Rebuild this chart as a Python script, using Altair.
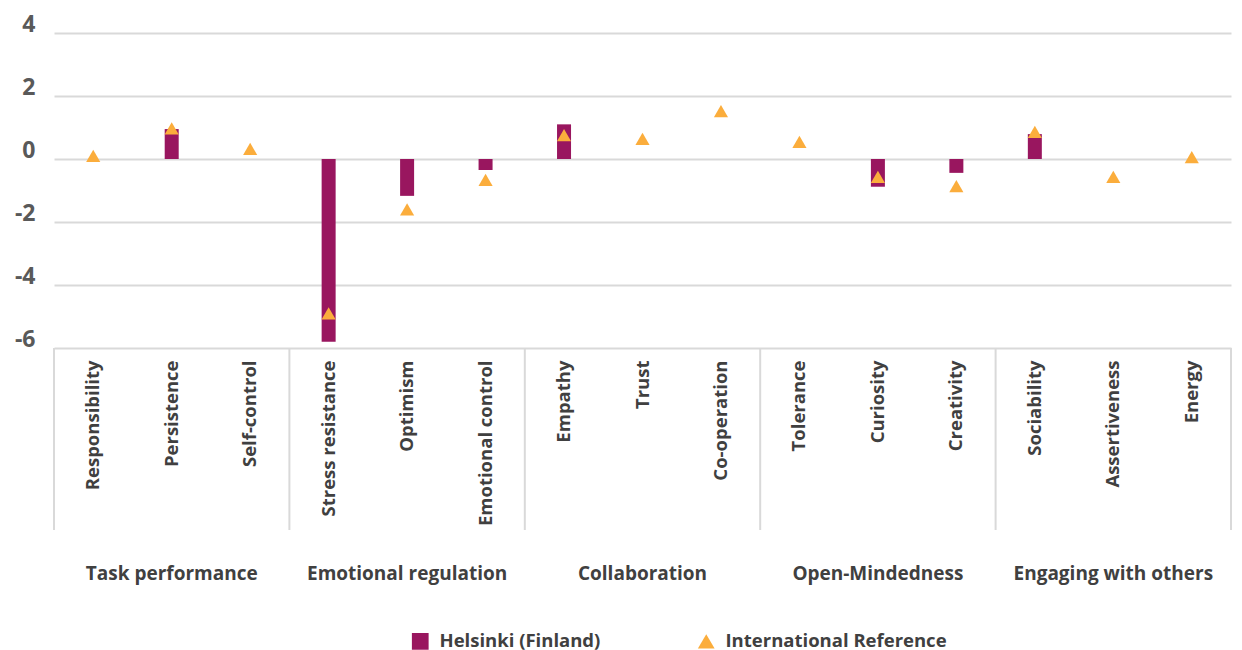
import altair as alt
import pandas as pd

categories = ["Responsibility", "Persistence", "Self-control",
              "Stress resistance", "Optimism", "Emotional control",
              "Empathy", "Trust", "Co-operation",
              "Tolerance", "Curiosity", "Creativity",
              "Sociability", "Assertiveness", "Energy"]
groups = ["Task performance", "Emotional regulation", "Collaboration",
          "Open-Mindedness", "Engaging with others"]
group_first = ["Responsibility", "Stress resistance", "Empathy", "Tolerance", "Sociability"]
group_mid = ["Persistence", "Optimism", "Trust", "Curiosity", "Assertiveness"]
group_last = ["Energy"]

helsinki = [None, 0.95, None, -5.8, -1.17, -0.35, 1.1, None, None,
            None, -0.88, -0.44, 0.79, None, None]
reference = [0.1, 0.97, 0.32, -4.9, -1.6, -0.66, 0.76, 0.64, 1.52,
             0.54, -0.57, -0.86, 0.86, -0.57, 0.06]

S1 = "Helsinki (Finland)"
S2 = "International Reference"
PURPLE = "#99165F"
ORANGE = "#FBAD3C"
FONT = "Open Sans"

W, H = 1177, 315

bars = pd.DataFrame({"category": categories, "value": helsinki, "series": S1}).dropna()
pts = pd.DataFrame({"category": categories, "value": reference, "series": S2})
sep_first = pd.DataFrame({"category": group_first})
sep_last = pd.DataFrame({"category": group_last})
glabels = pd.DataFrame({"category": group_mid, "group": groups})

xenc = alt.X("category:N", sort=categories,
             scale=alt.Scale(domain=categories, paddingInner=0, paddingOuter=0),
             axis=alt.Axis(title=None, labelAngle=-90, ticks=False, domain=False,
                           labelPadding=12, labelFontSize=18.5, labelFont=FONT,
                           labelFontWeight="bold", labelColor="#404040", labelLimit=300))
yenc = alt.Y("value:Q",
             scale=alt.Scale(domain=[-6, 4], nice=False, zero=False),
             axis=alt.Axis(title=None, values=[-6, -4, -2, 0, 2, 4],
                           labelExpr="'' + datum.value",
                           ticks=False, domain=False, grid=True, gridColor="#D9D9D9",
                           gridWidth=2, labelFontSize=23, labelFont=FONT,
                           labelFontWeight="bold", labelColor="#595959",
                           labelPadding=19, labelBaseline="alphabetic", labelOffset=-2))

color_scale = alt.Scale(domain=[S1, S2], range=[PURPLE, ORANGE])
shape_scale = alt.Scale(domain=[S1, S2], range=["square", "triangle-up"])
legend = alt.Legend(title=None, orient="none", direction="horizontal",
                    legendX=357, legendY=599, columnPadding=96,
                    labelFontSize=18.5, labelFont=FONT, labelFontWeight="bold",
                    labelColor="#404040", symbolSize=280, labelOffset=10,
                    labelLimit=400, symbolStrokeWidth=0)

bar_layer = alt.Chart(bars).mark_bar(size=14).encode(
    x=xenc, y=yenc,
    color=alt.Color("series:N", scale=color_scale, legend=legend),
)
pt_layer = alt.Chart(pts).mark_point(filled=True, size=200, opacity=1).encode(
    x=alt.X("category:N", sort=categories), y="value:Q",
    color=alt.Color("series:N", scale=color_scale, legend=legend),
    shape=alt.Shape("series:N", scale=shape_scale, legend=legend),
)
sep1 = alt.Chart(sep_first).mark_rule(color="#D9D9D9", strokeWidth=2).encode(
    x=alt.X("category:N", sort=categories, bandPosition=0),
    y=alt.value(H), y2=alt.value(H + 182),
)
sep2 = alt.Chart(sep_last).mark_rule(color="#D9D9D9", strokeWidth=2).encode(
    x=alt.X("category:N", sort=categories, bandPosition=1),
    y=alt.value(H), y2=alt.value(H + 182),
)
gtext = alt.Chart(glabels).mark_text(font=FONT, fontSize=19, fontWeight="bold",
                                     color="#404040", baseline="middle").encode(
    x=alt.X("category:N", sort=categories, bandPosition=0.5),
    y=alt.value(H + 226),
    text="group:N",
)

chart = alt.layer(sep1, sep2, gtext, bar_layer, pt_layer).properties(
    width=W, height=H, padding={"left": 6, "top": 5, "right": 0, "bottom": 0}
).configure_view(stroke=None).configure_axis(gridCap="butt")

chart.save("out.html", embed_options={"renderer": "svg", "actions": False})
